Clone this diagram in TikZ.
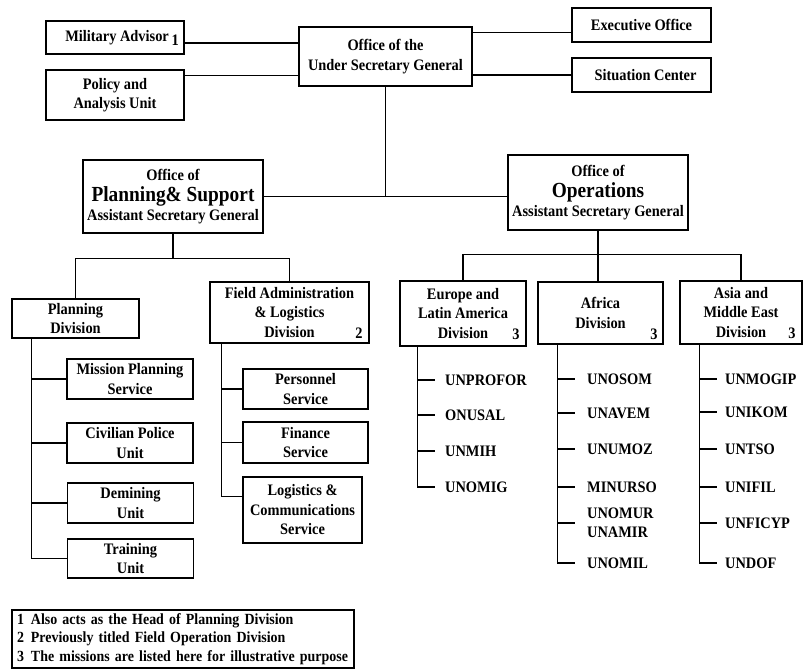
\documentclass[tikz,border=0pt]{standalone}
\usepackage{fontspec}
\setmainfont{Liberation Serif}[FakeStretch=0.9]
\usetikzlibrary{calc}
\newcommand\fs{\fontsize{16}{19.5}\selectfont\bfseries}
\newcommand\fbig{\fontsize{21.5}{24}\selectfont\bfseries}
\newcommand\flg{\fontsize{15.5}{18.2}\selectfont\bfseries}
\tikzset{
  box/.style 2 args={draw, line width=1.2pt, inner sep=0pt, align=center, font=\fs,
    minimum width=#1pt, minimum height=#2pt},
  conn/.style={line width=1.2pt},
  item/.style={inner sep=0pt, anchor=west, font=\fs, align=left},
  num/.style={inner sep=0pt, font=\fs}
}
\begin{document}
\begin{tikzpicture}[x=1pt,y=-1pt]
\useasboundingbox (0,0) rectangle (804,670);
% top level
\node[box={138}{33}] (mil) at (115,37.5) {\hspace*{14pt}Military Advisor\,\raisebox{-4pt}{1}};
\node[box={138}{50}] (pol) at (115,95) {Policy and\\Analysis Unit};
\node[box={173}{59}] (usg) at (385.5,56.5) {Office of the\\Under Secretary General};
\node[box={139}{34}] (exe) at (641.5,25) {Executive Office};
\node[box={139}{34}] (sit) at (641.5,75) {\hspace*{8pt}Situation Center};
\node[box={180}{73}] (ps) at (173,196.5) {Office of\\[2pt]{\fbig Planning\& Support}\\[-1pt]Assistant Secretary General};
\node[box={180}{75}] (ops) at (598,192.5) {Office of\\[2pt]{\fbig Operations}\\[-1pt]Assistant Secretary General};
% planning & support side
\node[box={127}{39}] (pd) at (75.5,318.5) {Planning\\Division};
\node[box={159}{61}] (fa) at (289.5,312.5) {Field Administration\\\& Logistics\\Division};
\node[num] (n2) at (359,333) {2};
\node[box={126}{40}] (mps) at (130,379) {Mission Planning\\Service};
\node[box={126}{40}] (cpu) at (130,443) {Civilian Police\\Unit};
\node[box={126}{40}] (dem) at (130.5,503) {Demining\\Unit};
\node[box={126}{39}] (trn) at (130.5,558.5) {Training\\Unit};
\node[box={125}{40}] (per) at (305.5,389) {Personnel\\Service};
\node[box={125}{41}] (fin) at (305.5,442.5) {Finance\\Service};
\node[box={119}{66}] (log) at (302.5,510) {Logistics \&\\Communications\\Service};
% operations side
\node[box={126}{65}] (eur) at (463,313.5) {Europe and\\Latin America\\Division};
\node[num] (n3a) at (516,334) {3};
\node[box={125}{62}] (afr) at (600.5,313) {Africa\\Division};
\node[num] (n3b) at (654,334) {3};
\node[box={122}{63}] (asi) at (741,312.5) {Asia and\\Middle East\\Division};
\node[num] (n3c) at (792,333) {3};
% missions
\node[item] (unprofor) at (445,380) {UNPROFOR};
\node[item] (onusal) at (445,415) {ONUSAL};
\node[item] (unmih) at (445,451) {UNMIH};
\node[item] (unomig) at (445,487) {UNOMIG};
\node[item] (unosom) at (587,379) {UNOSOM};
\node[item] (unavem) at (587,413) {UNAVEM};
\node[item] (unumoz) at (587,449) {UNUMOZ};
\node[item] (minurso) at (587,487) {MINURSO};
\node[item] (unomur) at (587,523) {UNOMUR\\UNAMIR};
\node[item] (unomil) at (587,563) {UNOMIL};
\node[item] (unmogip) at (725,379) {UNMOGIP};
\node[item] (unikom) at (725,412) {UNIKOM};
\node[item] (untso) at (725,449) {UNTSO};
\node[item] (unifil) at (725,487) {UNIFIL};
\node[item] (unficyp) at (725,523) {UNFICYP};
\node[item] (undof) at (725,563) {UNDOF};
% legend
\node[draw, line width=1.2pt, inner xsep=5pt, inner ysep=0pt, minimum width=342pt, minimum height=58pt,
  text width=332pt, align=left, font=\flg] (leg) at (183,639)
  {1\hspace{7pt}Also acts as the Head of Planning Division\\
   2\hspace{7pt}Previously titled Field Operation Division\\
   3\hspace{7pt}The missions are listed here for illustrative purpose};
% connectors, top
\coordinate (m1) at ([yshift=-5.5pt]mil.east);
\draw[conn] (m1) -- (m1 -| usg.west);
\coordinate (p1) at ([yshift=-6pt]pol.north east);
\draw[conn] (p1) -- (p1 -| usg.west);
\coordinate (u1) at ([yshift=-6pt]usg.north east);
\draw[conn] (u1) -- (u1 -| exe.west);
\draw[conn] (sit.west) -- (sit.west -| usg.east);
\draw[conn] (usg.south) -- (usg.south |- ps.east);
\draw[conn] (ps.east) -- (ps.east -| ops.west);
% planning & support tree
\coordinate (b1) at ([yshift=-25pt]ps.south);
\draw[conn] (ps.south) -- (b1);
\draw[conn] (pd.north) |- (b1) -| (fa.north);
\coordinate (pdt) at ([xshift=20pt]pd.south west);
\draw[conn] (pdt) |- (trn.west);
\foreach \n in {mps,cpu,dem} \draw[conn] (\n.west) -- (\n.west -| pdt);
\coordinate (fat) at ([xshift=12pt]fa.south west);
\coordinate (lg) at ([yshift=-20pt]log.north west);
\draw[conn] (fat) |- (lg);
\foreach \n in {per,fin} \draw[conn] (\n.west) -- (\n.west -| fat);
% operations tree
\coordinate (b2) at ([yshift=-24pt]ops.south);
\draw[conn] (ops.south) -- (ops.south |- afr.north);
\draw[conn] (eur.north) |- (b2) -| (asi.north);
\coordinate (et) at ([xshift=18pt]eur.south west);
\draw[conn] (et) |- ([xshift=-10pt]unomig.west);
\foreach \n in {unprofor,onusal,unmih} \draw[conn] (\n.west -| et) -- ([xshift=-10pt]\n.west);
\coordinate (at) at ([xshift=20pt]afr.south west);
\draw[conn] (at) |- ([xshift=-12pt]unomil.west);
\foreach \n in {unosom,unavem,unumoz,minurso,unomur} \draw[conn] (\n.west -| at) -- ([xshift=-12pt]\n.west);
\coordinate (st) at ([xshift=20pt]asi.south west);
\draw[conn] (st) |- ([xshift=-8pt]undof.west);
\foreach \n in {unmogip,unikom,untso,unifil,unficyp} \draw[conn] (\n.west -| st) -- ([xshift=-8pt]\n.west);
\end{tikzpicture}
\end{document}
